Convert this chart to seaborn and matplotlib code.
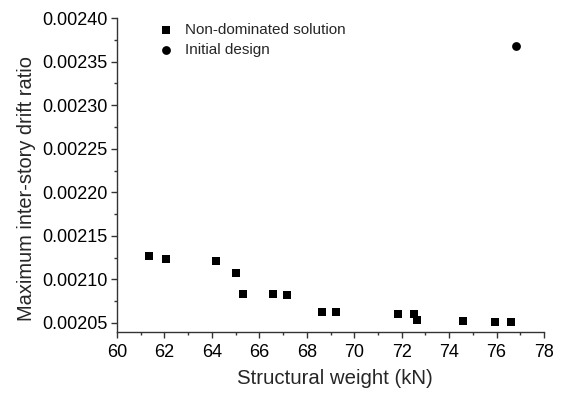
import matplotlib
matplotlib.use("Agg")
import matplotlib.pyplot as plt
import seaborn as sns
import pandas as pd
from matplotlib.ticker import MultipleLocator, FormatStrFormatter

sns.set_theme(style="ticks")
plt.rcParams['font.family'] = ['Liberation Sans', 'DejaVu Sans']

weight_nd = [61.36, 62.08, 64.16, 65.00, 65.31, 66.56, 67.18, 68.66, 69.23,
             71.85, 72.51, 72.65, 74.60, 75.94, 76.61]
drift_nd = [0.0021267, 0.0021229, 0.0021206, 0.0021068, 0.0020826, 0.0020826,
            0.0020815, 0.0020620, 0.0020620, 0.0020597, 0.0020597, 0.0020531,
            0.0020520, 0.0020510, 0.0020510]
weight_init = [76.81]
drift_init = [0.0023684]

df_nd = pd.DataFrame({"w": weight_nd, "d": drift_nd})
df_init = pd.DataFrame({"w": weight_init, "d": drift_init})

fig = plt.figure(figsize=(5.63, 3.95), dpi=100)
ax = fig.add_axes([0.2078, 0.160, 0.7585, 0.794])

sns.scatterplot(data=df_nd, x="w", y="d", marker="s", s=32, color="black",
                edgecolor="black", linewidth=0, label="Non-dominated solution", ax=ax)
sns.scatterplot(data=df_init, x="w", y="d", marker="o", s=40, color="black",
                edgecolor="black", linewidth=0, label="Initial design", ax=ax)

ax.set_xlim(60, 78)
ax.set_ylim(0.0020397, 0.0024)
ax.xaxis.set_major_locator(MultipleLocator(2))
ax.xaxis.set_minor_locator(MultipleLocator(1))
ax.yaxis.set_major_locator(MultipleLocator(0.00005))
ax.yaxis.set_minor_locator(MultipleLocator(0.000025))
ax.yaxis.set_major_formatter(FormatStrFormatter('%.5f'))

for s in ["top", "right"]:
    ax.spines[s].set_visible(False)
for s in ["left", "bottom"]:
    ax.spines[s].set_color("#333333")
    ax.spines[s].set_linewidth(1.0)

ax.tick_params(axis="both", which="major", direction="out", length=4, width=1,
               labelsize=13, colors="#333333", labelcolor="black", pad=3)
ax.tick_params(axis="x", which="major", pad=4.5)
ax.tick_params(axis="both", which="minor", direction="out", length=2.5, width=1,
               colors="#333333")

ax.set_xlabel("Structural weight (kN)", fontsize=14.7)
ax.set_ylabel("Maximum inter-story drift ratio", fontsize=14.4)
ax.xaxis.set_label_coords(0.51, -0.119)
ax.yaxis.set_label_coords(-0.19, 0.458)

leg = ax.legend(loc="upper left", bbox_to_anchor=(0.085, 1.005), frameon=False,
                fontsize=11, handletextpad=0.75, labelspacing=0.42,
                handlelength=0.9, borderaxespad=0)

fig.savefig("out.png", dpi=100)
